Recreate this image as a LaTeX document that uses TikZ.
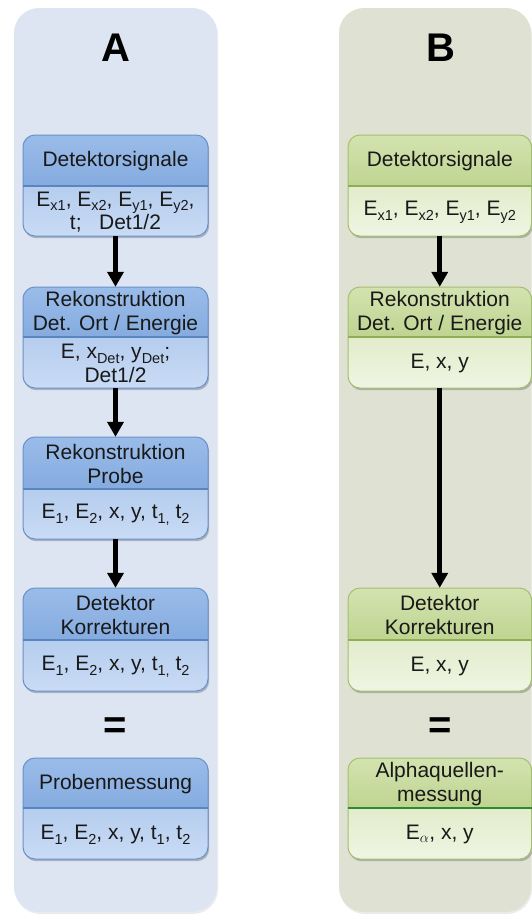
\documentclass[tikz,border=0pt]{standalone}
\usepackage{fontspec}
\setmainfont{Liberation Sans}
\usetikzlibrary{arrows.meta,calc,fit}
\definecolor{panelA}{HTML}{DCE5F1}
\definecolor{panelB}{HTML}{DFE2D3}
\definecolor{hAt}{HTML}{9ABCE9}
\definecolor{hAb}{HTML}{85ABDF}
\definecolor{bAt}{HTML}{B5CDEE}
\definecolor{bAb}{HTML}{C9DBF5}
\definecolor{brA}{HTML}{6A91C9}
\definecolor{dvA}{HTML}{5A85C0}
\definecolor{hBt}{HTML}{D3E3B0}
\definecolor{hBb}{HTML}{BFD491}
\definecolor{bBt}{HTML}{E2ECCB}
\definecolor{bBb}{HTML}{EFF5E3}
\definecolor{brB}{HTML}{A5BF6E}
\definecolor{dvB}{HTML}{8FAE57}
\definecolor{dvBdark}{HTML}{2F8A2F}
\tikzset{
  Ahead/.style={top color=hAt, bottom color=hAb},
  Abody/.style={top color=bAt, bottom color=bAb},
  Aborder/.style={draw=brA, line width=1pt},
  Adiv/.style={draw=dvA, line width=1.6pt},
  Bhead/.style={top color=hBt, bottom color=hBb},
  Bbody/.style={top color=bBt, bottom color=bBb},
  Bborder/.style={draw=brB, line width=1pt},
  Bdiv/.style={draw=dvB, line width=1.6pt},
  txt/.style={font=\fontsize{21}{23.5}\selectfont, align=center, inner sep=0pt, text=black!90},
  paneltitle/.style={font=\fontsize{40}{44}\selectfont\bfseries, inner sep=0pt},
  eqsign/.style={font=\fontsize{40}{44}\selectfont\bfseries, inner sep=0pt},
  arr/.style={line width=4.8pt, -{Triangle[width=16pt,length=15pt]}},
  boxshadow/.style={fill=black, opacity=0.22, rounded corners=12pt},
}
% #1 name, #2 style prefix, #3 left, #4 right, #5 top, #6 divider, #7 bottom, #8 header, #9 body
\newcommand\flowbox[9]{%
  \fill[boxshadow, xshift=1.2pt, yshift=-2.2pt] (#3,#5) rectangle (#4,#7);
  \begin{scope}
    \clip[rounded corners=12pt] (#3,#5) rectangle (#4,#7);
    \shade[#2head] (#3,#5) rectangle (#4,#6);
    \shade[#2body] (#3,#6) rectangle (#4,#7);
  \end{scope}
  \draw[#2border, rounded corners=12pt] (#3,#5) rectangle (#4,#7);
  \draw[#2div] (#3,#6) -- (#4,#6);
  \coordinate (#1-nw) at (#3,#5);
  \coordinate (#1-se) at (#4,#7);
  \coordinate (#1-dl) at (#3,#6);
  \coordinate (#1-dr) at (#4,#6);
  \node[fit=(#1-nw)(#1-se), inner sep=0pt] (#1) {};
  \node[txt] (#1-head) at ($(#1-nw)!0.5!(#1-dr)+(0,1)$) {#8};
  \node[txt] (#1-body) at ($(#1-dl)!0.5!(#1-se)+(0,1)$) {#9};
}
\newcommand\sub[1]{\raisebox{-0.22em}{\fontsize{14.5}{15}\selectfont #1}}
\begin{document}
\begin{tikzpicture}[x=1pt,y=-1pt]
\useasboundingbox (0,0) rectangle (532,916);
% panels
\fill[black, opacity=0.08, rounded corners=25pt, xshift=1pt, yshift=-2pt] (14,8) rectangle (217,912);
\fill[panelA, rounded corners=25pt] (14,8) rectangle (217,912);
\fill[black, opacity=0.08, rounded corners=25pt, xshift=1pt, yshift=-2pt] (339,8) rectangle (531,912);
\fill[panelB, rounded corners=25pt] (339,8) rectangle (531,912);
\node[paneltitle] (tA) at (115.5,48) {A};
\node[paneltitle] (tB) at (441,48) {B};
% column A
\flowbox{a1}{A}{23}{208}{135}{186}{236}{Detektorsignale}{E\sub{x1}, E\sub{x2}, E\sub{y1}, E\sub{y2},\\ t;\ \ \ Det1/2}
\flowbox{a2}{A}{23}{208}{287}{337}{388}{Rekonstruktion\\Det. Ort / Energie}{E, x\sub{Det}, y\sub{Det};\\Det1/2}
\flowbox{a3}{A}{23}{208}{437}{489}{539}{Rekonstruktion\\Probe}{E\sub{1}, E\sub{2}, x, y, t\sub{1,} t\sub{2}}
\flowbox{a4}{A}{23}{208}{588}{640}{691}{Detektor\\Korrekturen}{E\sub{1}, E\sub{2}, x, y, t\sub{1,} t\sub{2}}
\flowbox{a5}{A}{23}{208}{758}{808}{859}{Probenmessung}{E\sub{1}, E\sub{2}, x, y, t\sub{1}, t\sub{2}}
\node[eqsign] (eqA) at (115.5,728) {=};
\draw[arr] (a1) -- (a2);
\draw[arr] (a2) -- (a3);
\draw[arr] (a3) -- (a4);
% column B
\flowbox{b1}{B}{348}{531.5}{135}{186}{236}{Detektorsignale}{E\sub{x1}, E\sub{x2}, E\sub{y1}, E\sub{y2}}
\flowbox{b2}{B}{348}{531.5}{287}{337}{388}{Rekonstruktion\\Det. Ort / Energie}{E, x, y}
\flowbox{b3}{B}{348}{531.5}{588}{640}{691}{Detektor\\Korrekturen}{E, x, y}
\flowbox{b4}{B}{348}{531.5}{758}{808}{859}{Alphaquellen-\\messung}{E$_\alpha$, x, y}
\draw[draw=dvBdark, line width=2.4pt] (b4-dl) -- (b4-dr);
\node[eqsign] (eqB) at (440.5,728) {=};
\draw[arr] (b1) -- (b2);
\draw[arr] (b2) -- (b3);
\end{tikzpicture}
\end{document}
